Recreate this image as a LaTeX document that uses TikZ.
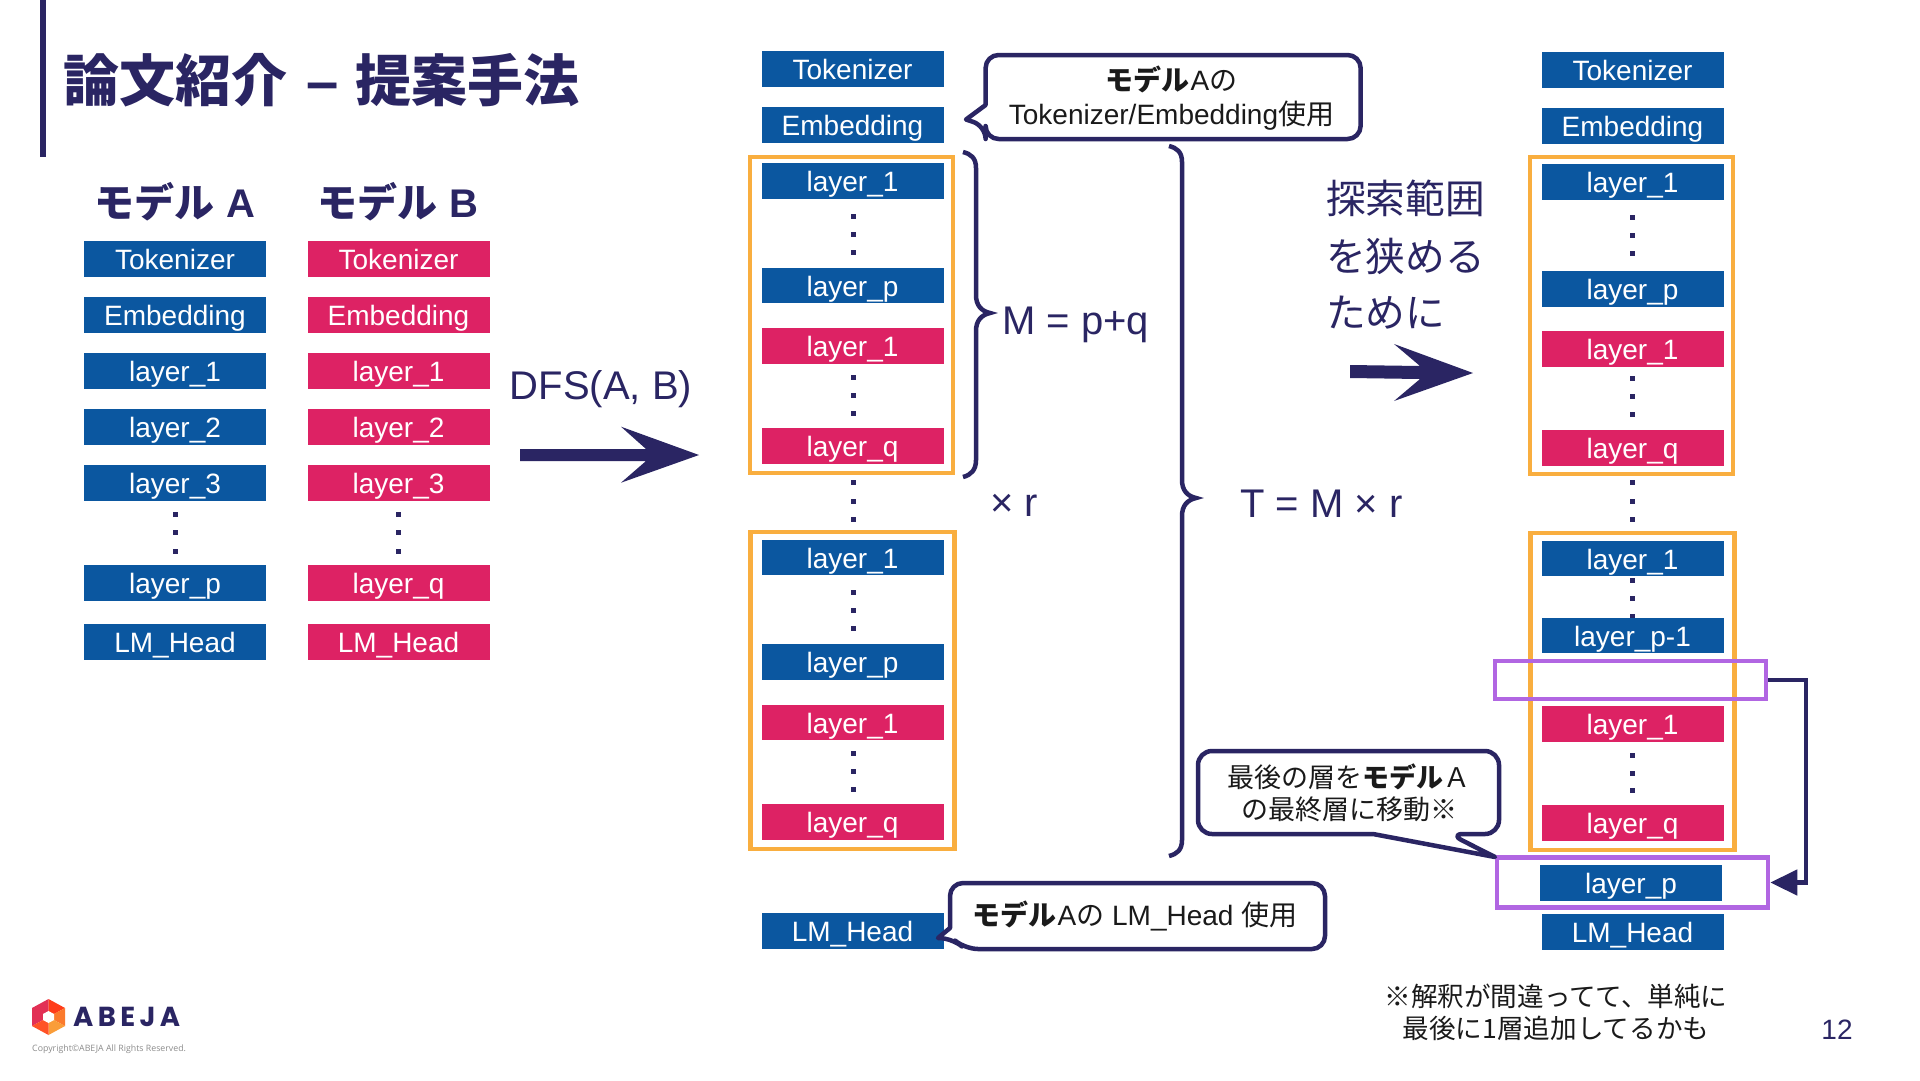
\documentclass[tikz,border=0pt]{standalone}
\usepackage{fontspec}
\usetikzlibrary{arrows.meta}
\setmainfont{Liberation Sans}
\newfontfamily\jp{Noto Sans CJK JP}
\newfontfamily\logofont[LetterSpace=16]{Poppins}
\newfontfamily\copyfont{Open Sans}
\newcommand\fsz[1]{\fontsize{#1}{#1}\selectfont}
\definecolor{navy}{HTML}{2A2563}
\definecolor{blueb}{HTML}{0B57A0}
\definecolor{pinkb}{HTML}{DD2264}
\definecolor{orangeb}{HTML}{F9AE3F}
\definecolor{purpleb}{HTML}{B166E2}
\definecolor{ink}{HTML}{1A1A1A}
\tikzset{
  block/.style={minimum width=182pt,minimum height=35.5pt,inner sep=0pt,text=white,font=\fsz{28},text height=21pt,text depth=0pt},
  bb/.style={block,fill=blueb},
  pb/.style={block,fill=pinkb},
  groupbox/.style={draw=orangeb,line width=4.5pt,inner sep=0pt},
  movebox/.style={draw=purpleb,line width=4.5pt,inner sep=0pt},
  callout/.style={draw=navy,fill=white,line width=4.5pt,line join=round},
  brace/.style={draw=navy,line width=4.5pt},
  big/.style={text=navy,font=\fsz{40},inner sep=0pt},
  note/.style={text=ink,inner sep=0pt,align=center,font=\jp\fsz{27}},
  head/.style={text=navy,inner sep=0pt,font=\jp\bfseries\fsz{40}},
  bigarrow/.style={fill=navy,draw=none},
}
\newcommand\dotcol[4]{\foreach \dy in {#2,#3,#4}{\fill[navy] (#1-2.5,\dy-2.5) rectangle (#1+2.5,\dy+2.5);}}
\begin{document}
\begin{tikzpicture}[x=1pt,y=-1pt]
\useasboundingbox (0,0) rectangle (1920,1080);
\fill[white] (0,0) rectangle (1920,1080);
% title
\fill[navy] (40,0) rectangle (46,157);
\node[anchor=west,inner sep=0pt,text=navy,font=\jp\bfseries\fsz{56}] (title) at (63,80) {論文紹介\hspace{19pt}{\rmfamily\bfseries\fsz{58}–}\hspace{17pt}提案手法};
% model A
\node[head] (ha) at (175,202) {モデル\hspace{12pt}{\rmfamily\bfseries A}};
\node[head] (hb) at (398,202) {モデル\hspace{12pt}{\rmfamily\bfseries B}};
\node[bb] (a1) at (175,259) {Tokenizer};
\node[bb] (a2) at (175,315) {Embedding};
\node[bb] (a3) at (175,371) {layer\_1};
\node[bb] (a4) at (175,427) {layer\_2};
\node[bb] (a5) at (175,483) {layer\_3};
\dotcol{175}{514}{532}{551}
\node[bb] (a6) at (175,583) {layer\_p};
\node[bb] (a7) at (175,642) {LM\_Head};
\node[pb] (b1) at (398.5,259) {Tokenizer};
\node[pb] (b2) at (398.5,315) {Embedding};
\node[pb] (b3) at (398.5,371) {layer\_1};
\node[pb] (b4) at (398.5,427) {layer\_2};
\node[pb] (b5) at (398.5,483) {layer\_3};
\dotcol{398.5}{514}{532}{551}
\node[pb] (b6) at (398.5,583) {layer\_q};
\node[pb] (b7) at (398.5,642) {LM\_Head};
% DFS
\node[big] (dfs) at (601,389.5) {DFS(A, B)};
\path[bigarrow] (520,449) -- (646,449) -- (621,426.7) -- (699,455) -- (621,482.7) -- (646,461) -- (520,461) -- cycle;
% middle
\node[groupbox,minimum width=203pt,minimum height=316pt] (g1) at (851.5,315) {};
\node[groupbox,minimum width=204pt,minimum height=317pt] (g2) at (852.5,690.5) {};
\node[bb] (m1) at (852.5,69) {Tokenizer};
\node[bb] (m2) at (852.5,125) {Embedding};
\node[bb] (m3) at (852.5,181) {layer\_1};
\dotcol{853}{216}{234.5}{252}
\node[bb] (m4) at (852.5,285.5) {layer\_p};
\node[pb] (m5) at (852.5,346) {layer\_1};
\dotcol{853}{377}{395}{413}
\node[pb] (m6) at (852.5,446) {layer\_q};
\dotcol{853}{482}{501}{519}
\node[bb] (m7) at (852.5,557.5) {layer\_1};
\dotcol{853}{592}{610}{628}
\node[bb] (m8) at (852.5,662) {layer\_p};
\node[pb] (m9) at (852.5,722.5) {layer\_1};
\dotcol{853}{753}{771}{789}
\node[pb] (m10) at (852.5,822) {layer\_q};
\node[bb] (m11) at (852.5,931) {LM\_Head};
% callout 1
\path[callout] (985.6,105) [rounded corners=13pt] -- (985.6,55) -- (1360.6,55) -- (1360.6,139) -- (985.6,139) -- (985.6,126) [sharp corners] -- (966,119.5) -- cycle;
\node[note,font=\fsz{28}] (c1) at (1171.5,98) {{\jp\bfseries モデル}\hspace{1pt}A{\jp の}\\[6pt]Tokenizer/Embedding{\jp 使用}};
% braces
\draw[brace] (963,152) .. controls (971,154) and (976,158) .. (976,168) -- (976,295) .. controls (976,305) and (981,311) .. (990,313) .. controls (981,315) and (976,321) .. (976,331) -- (976,460) .. controls (976,470) and (971,475) .. (963,477);
\draw[brace] (1169,146) .. controls (1177,148) and (1182,152) .. (1182,162) -- (1182,480) .. controls (1182,490) and (1187,496) .. (1196,498) .. controls (1187,500) and (1182,506) .. (1182,516) -- (1182,840) .. controls (1182,850) and (1177,854) .. (1169,856);
\node[big,anchor=west] (mpq) at (1002,325) {M = p+q};
\node[big,anchor=west] (xr) at (990,505.5) {× r};
\node[big,anchor=west] (tmr) at (1240,503.5) {T = M × r};
% narrow text
\node[inner sep=0pt,text=navy,font=\jp\fsz{39.7},anchor=west] (n1) at (1326,198) {探索範囲};
\node[inner sep=0pt,text=navy,font=\jp\fsz{39.7},anchor=west] (n2) at (1326,256) {を狭める};
\node[inner sep=0pt,text=navy,font=\jp\fsz{39.7},anchor=west] (n3) at (1326,313) {ために};
\path[bigarrow] (1350,365) -- (1420,366) -- (1394,344) -- (1473,373) -- (1394,401) -- (1420,379) -- (1350,378) -- cycle;
% right column
\node[groupbox,minimum width=203pt,minimum height=317pt] (r1) at (1631.5,315.5) {};
\node[groupbox,minimum width=204pt,minimum height=317pt] (r2) at (1632.5,691.5) {};
\node[bb] (k1) at (1632.5,70) {Tokenizer};
\node[bb] (k2) at (1632.5,126) {Embedding};
\node[bb] (k3) at (1632.5,182) {layer\_1};
\dotcol{1632.5}{217}{235}{253}
\node[bb] (k4) at (1632.5,289) {layer\_p};
\node[pb] (k5) at (1632.5,349) {layer\_1};
\dotcol{1632.5}{378}{396}{414}
\node[pb] (k6) at (1632.5,448) {layer\_q};
\dotcol{1632.5}{482}{501}{519}
\node[bb] (k7) at (1632.5,558.5) {layer\_1};
\dotcol{1632.5}{580}{598}{616}
\node[bb] (k8) at (1632.5,635.5) {layer\_p-1};
\node[pb] (k9) at (1632.5,724) {layer\_1};
\dotcol{1632.5}{755}{773}{790}
\node[pb] (k10) at (1632.5,823) {layer\_q};
\node[bb] (k11) at (1631,883) {layer\_p};
\node[bb] (k12) at (1632.5,932) {LM\_Head};
\node[movebox,minimum width=271pt,minimum height=38pt] (p1) at (1630.5,680) {};
\node[movebox,minimum width=271pt,minimum height=50pt] (p2) at (1632.5,882.5) {};
\coordinate (bend) at (1806,780);
\draw[navy,line width=4.5pt,-{Triangle[length=27pt,width=25pt]}] (p1.east) -| (bend) |- (p2.east);
% callout 3
\path[callout] (1373,834) [rounded corners=14pt] -- (1198,834) -- (1198,751) -- (1499,751) -- (1499,834) -- (1449.5,834) [sharp corners] -- (1495,857) -- cycle;
\node[note] (c3) at (1349,793) {最後の層を{\bfseries モデル}Ａ\\[5pt]の最終層に移動※};
% callout 2
\path[callout] (950,928) [rounded corners=13pt] -- (950,883) -- (1325,883) -- (1325,949) -- (965,949) -- (952,938) [sharp corners] -- (938,938) -- cycle;
\node[inner sep=0pt,text=ink,font=\fsz{28}] (c2) at (1135,916) {{\jp\bfseries モデル}\hspace{1pt}A{\jp の} LM\_Head {\jp 使用}};
% note
\node[note,font=\jp\fsz{26.6}] (fn) at (1556,1012.5) {※解釈が間違ってて、単純に\\[6pt]最後に1層追加してるかも};
\node[inner sep=0pt,text=navy,font=\fsz{28}] (pg) at (1837,1030) {12};
% logo
\fill[pinkb!85!orange] (48.5,999) -- (32,1008) -- (32,1026) -- (48.5,1017) -- cycle;
\fill[red!70!orange!90] (48.5,999) -- (65,1008) -- (48.5,1017) -- cycle;
\fill[orangeb!70!red] (65,1008) -- (65,1026) -- (48.5,1017) -- cycle;
\fill[orangeb!90!red] (65,1026) -- (48.5,1035) -- (48.5,1017) -- cycle;
\fill[red!60!orange!85] (32,1026) -- (48.5,1035) -- (48.5,1017) -- cycle;
\fill[white] (48.5,1011) -- (54,1014) -- (54,1020) -- (48.5,1023) -- (43,1020) -- (43,1014) -- cycle;
\node[anchor=west,inner sep=0pt,text=navy,font=\logofont\bfseries\fsz{27.5}] (logo) at (73,1017) {ABEJA};
\node[anchor=west,inner sep=0pt,text=black!45,font=\copyfont\fsz{8.8}] (copy) at (32,1049) {Copyright©ABEJA All Rights Reserved.};
\end{tikzpicture}
\end{document}
